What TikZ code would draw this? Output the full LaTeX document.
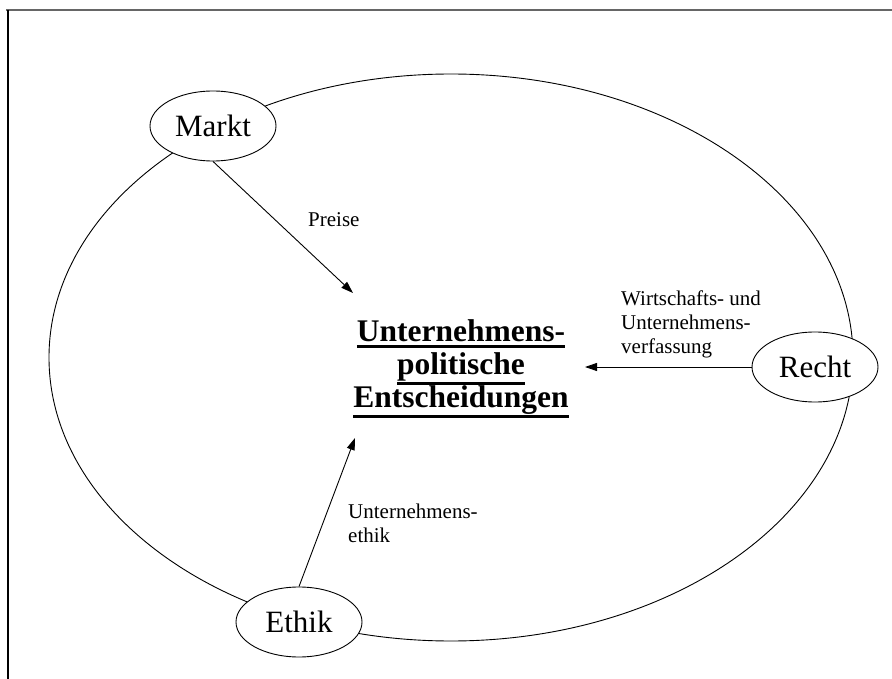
\documentclass[tikz,border=0pt]{standalone}
\usepackage{fontspec}
\setmainfont{Liberation Serif}
\usetikzlibrary{shapes.geometric,arrows.meta}
% bold heading line with a thick rule a little under its lowest descender
\newcommand\headline[1]{\setbox0\hbox{#1}\rlap{\rule[\dimexpr-\dp0*6/10-6pt\relax]{\wd0}{2.6pt}}\box0}
\begin{document}
\begin{tikzpicture}[x=1pt,y=-1pt,
  thinline/.style={line width=0.9pt,black},
  actor/.style={ellipse,draw,thinline,fill=white,minimum width=126pt,minimum height=70pt,
    inner sep=0pt,font=\fontsize{31}{36}\selectfont},
  flow/.style={thinline,-{Triangle[length=12pt,width=8pt]}},
  flowlabel/.style={align=left,anchor=west,inner sep=0pt,font=\fontsize{21}{24}\selectfont},
  core/.style={align=center,inner sep=0pt,font=\fontsize{31.5}{33}\selectfont\bfseries}]
\useasboundingbox (0,0) rectangle (892,679);
% sheet frame
\draw[line width=1.6pt,black!60] (6,10) -- (892,10);
\draw[line width=1.6pt,black] (8,10) -- (8,679);
% enclosing environment
\draw[thinline] (451,357.5) ellipse [x radius=402, y radius=283.5];
% central decision
\node[core] (core) at (461,369)
  {\headline{Unternehmens-}\\\headline{politische}\\\headline{Entscheidungen}};
% influencing actors
\node[actor] (markt) at (213,126) {Markt};
\node[actor] (recht) at (815,367) {Recht};
\node[actor] (ethik) at (299,622) {Ethik};
% arrow tips towards the decision
\coordinate (tmarkt) at (353,293);
\coordinate (trecht) at (585,367);
\coordinate (tethik) at (355,438);
\draw[flow] (markt.south) -- (tmarkt);
\draw[flow] (recht.west) -- (trecht);
\draw[flow] (ethik.north) -- (tethik);
% arrow labels
\node[flowlabel] (lmarkt) at (308,220) {Preise};
\node[flowlabel] (lrecht) at (621,324) {Wirtschafts- und\\Unternehmens-\\verfassung};
\node[flowlabel] (lethik) at (348,523) {Unternehmens-\\ethik};
\end{tikzpicture}
\end{document}
